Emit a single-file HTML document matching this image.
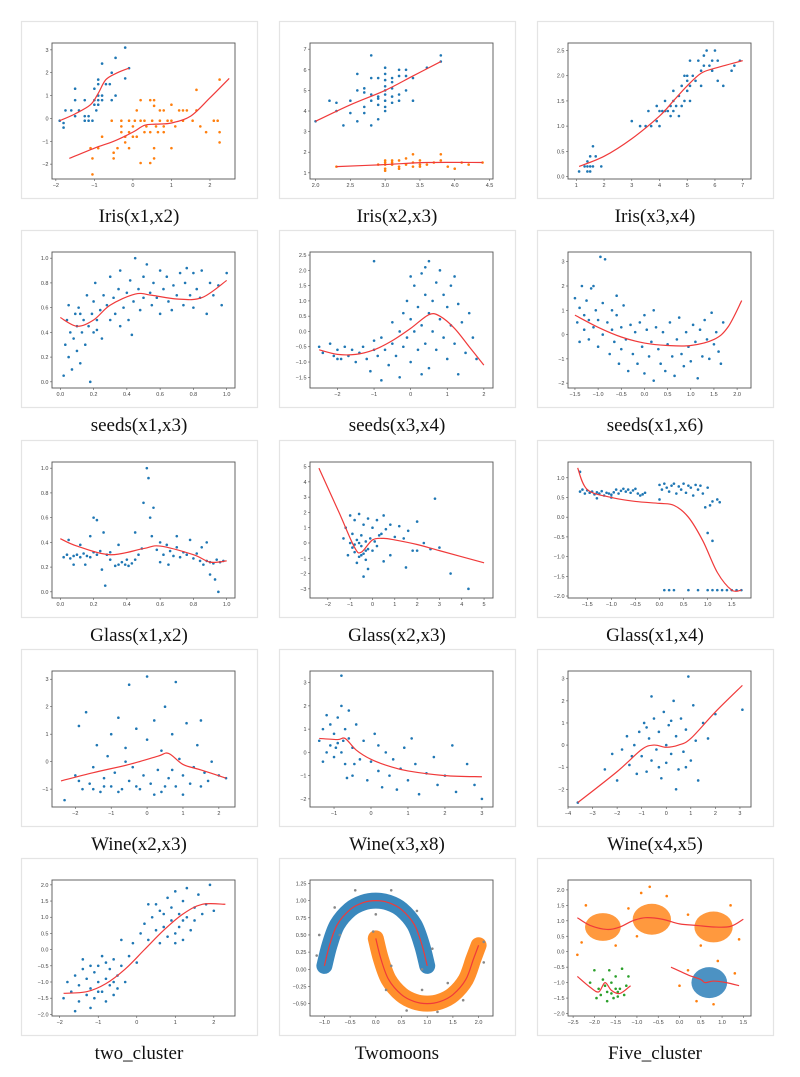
<!DOCTYPE html>
<html><head><meta charset="utf-8"><style>
html,body{margin:0;padding:0;background:#fff;}
svg{display:block;}
text{font-family:"Liberation Sans",sans-serif;}
.cap{font-family:"Liberation Serif",serif;font-size:19px;fill:#111;}
</style></head><body>
<svg id="fig" width="800" height="1077" viewBox="0 0 800 1077" xmlns="http://www.w3.org/2000/svg"></svg>
<script>
// ---------- data ----------
const p1Blue="-1.9,-0.1;-1.8,-0.4;-1.8,-0.2;-1.75,0.35;-1.6,0.35;-1.5,0.1;-1.5,0.8;-1.5,1.3;-1.4,0.35;-1.25,-0.1;-1.25,0.1;-1.25,0.8;-1.15,0.1;-1.15,-0.1;-1.05,-0.1;-1,0.8;-1,1.3;-1,0.6;-0.95,0.35;-0.9,1.0;-0.9,1.5;-0.9,1.7;-0.9,0.8;-0.8,0.8;-0.8,1.0;-0.8,2.4;-0.7,1.5;-0.6,1.5;-0.55,2.0;-0.55,0.8;-0.45,1.0;-0.45,2.65;-0.2,1.75;-0.2,3.1;-0.1,2.2;-0.9,0.6";
const p1Orange="-1.1,-1.3;-1.05,-1.75;-1.05,-2.45;-0.9,-1.3;-0.8,-0.8;-0.5,-1.5;-0.5,-1.75;-0.4,-1.3;-0.55,-0.1;-0.3,-0.1;-0.3,-0.35;-0.3,-0.6;-0.2,-0.8;-0.2,-1.05;-0.1,-0.1;-0.1,-0.6;-0.1,-1.3;0,-0.35;0,-0.8;0.05,-0.1;0.1,0.35;0.2,-0.1;0.2,0.8;0.2,-1.95;0.3,-0.6;0.3,-0.1;0.35,-0.35;0.45,0.8;0.45,-0.6;0.45,-1.95;0.5,-0.1;0.55,0.55;0.55,0.8;0.55,-1.3;0.55,-1.75;0.6,-0.35;0.65,-0.6;0.7,0.35;0.7,-0.1;0.8,0.35;0.8,-0.6;0.9,-0.1;1,0.6;1,-0.1;1,-1.3;1.1,-0.35;1.2,0.35;1.3,0.35;1.3,-0.1;1.4,0.35;1.55,-0.1;1.65,0.35;1.65,1.25;1.75,-0.35;1.9,-0.6;2.1,-0.1;2.2,-0.1;2.25,1.7;2.25,-0.6;2.25,-1.05;0.8,-0.35;0.1,-0.8";
const p1CurveB="-1.9,-0.1;-1.5,0.2;-1.1,0.6;-0.9,1.1;-0.7,1.7;-0.4,2.0;-0.1,2.2";
const p1CurveO="-1.65,-1.75;-1,-1.3;-0.5,-1;0,-0.6;0.3,-0.3;0.6,-0.25;1,-0.2;1.5,0.1;2,0.9;2.5,1.75";
const p2Blue="2.3,4.0;2.3,4.4;2.5,3.9;2.5,4.5;2.6,3.5;2.6,5.0;2.7,3.9;2.7,4.9;2.7,5.1;2.7,4.2;2.8,4.5;2.8,3.3;2.8,4.8;2.8,5.6;2.8,6.7;2.9,4.3;2.9,4.6;2.9,5.6;2.9,3.6;3.0,4.2;3.0,4.5;3.0,4.8;3.0,5.0;3.0,5.5;3.0,5.8;3.0,6.1;3.0,4.0;3.1,4.7;3.1,5.4;3.1,4.4;3.1,5.6;3.2,4.8;3.2,5.7;3.2,6.0;3.2,4.5;3.3,5.0;3.3,5.7;3.3,6.0;3.4,4.5;3.4,5.6;3.6,6.1;3.8,6.4;3.8,6.7;2.2,4.5;2.4,3.3;2.6,5.8;2.0,3.5;3.0,5.2;2.9,4.7;3.1,5.1";
const p2Orange="2.3,1.3;2.9,1.4;3.0,1.2;3.0,1.4;3.0,1.6;3.0,1.1;3.1,1.5;3.1,1.6;3.1,1.4;3.2,1.3;3.2,1.6;3.2,1.2;3.3,1.4;3.3,1.7;3.4,1.5;3.4,1.3;3.4,1.9;3.5,1.4;3.5,1.3;3.6,1.4;3.7,1.5;3.8,1.6;3.8,1.9;3.9,1.3;4.0,1.2;4.1,1.5;4.2,1.4;4.4,1.5;3.0,1.5;3.5,1.6";
const p2CurveB="2.0,3.5;2.5,4.3;3.0,5.0;3.4,5.7;3.8,6.4";
const p2CurveO="2.3,1.3;3.0,1.4;3.6,1.5;4.4,1.5";
const p3Pts="1.1,0.1;1.3,0.2;1.4,0.2;1.4,0.3;1.5,0.2;1.5,0.4;1.6,0.2;1.6,0.6;1.7,0.4;1.9,0.2;1.5,0.1;1.4,0.1;3.0,1.1;3.3,1.0;3.5,1.0;3.6,1.3;3.7,1.0;3.9,1.1;3.9,1.4;4.0,1.3;4.0,1.0;4.1,1.3;4.2,1.3;4.2,1.5;4.3,1.3;4.4,1.4;4.4,1.2;4.5,1.5;4.5,1.7;4.6,1.4;4.7,1.6;4.7,1.2;4.8,1.8;4.8,1.4;4.9,1.5;4.9,2.0;5.0,1.7;5.0,1.9;5.0,2.0;5.1,1.8;5.1,2.3;5.2,2.0;5.3,1.9;5.4,2.3;5.5,2.1;5.5,1.8;5.6,2.4;5.6,2.2;5.7,2.5;5.8,2.2;5.9,2.3;6.0,2.5;6.1,1.9;6.1,2.3;6.3,1.8;6.6,2.1;6.7,2.2;6.9,2.3;5.9,2.1;5.1,1.5;4.5,1.3";
const p3Curve="1.1,0.2;2,0.4;3,0.75;4,1.2;4.5,1.5;5,1.8;5.5,2.05;6,2.15;7,2.3";
const p4Pts="0.02,0.05;0.03,0.3;0.04,0.5;0.05,0.2;0.06,0.4;0.07,0.1;0.08,0.35;0.09,0.55;0.1,0.25;0.1,0.45;0.11,0.6;0.12,0.15;0.13,0.4;0.14,0.5;0.15,0.3;0.16,0.7;0.17,0.45;0.18,0.0;0.19,0.55;0.2,0.4;0.2,0.65;0.21,0.8;0.22,0.5;0.24,0.58;0.25,0.35;0.26,0.7;0.28,0.62;0.3,0.5;0.3,0.85;0.32,0.68;0.33,0.55;0.35,0.75;0.36,0.9;0.38,0.6;0.4,0.72;0.41,0.5;0.42,0.82;0.44,0.65;0.45,1.0;0.47,0.75;0.48,0.58;0.5,0.85;0.5,0.68;0.52,0.95;0.54,0.72;0.55,0.62;0.56,0.8;0.58,0.68;0.6,0.9;0.6,0.55;0.62,0.75;0.64,0.85;0.65,0.65;0.67,0.58;0.68,0.78;0.7,0.7;0.72,0.88;0.74,0.62;0.75,0.8;0.76,0.92;0.78,0.7;0.8,0.88;0.8,0.6;0.82,0.75;0.84,0.68;0.85,0.9;0.88,0.55;0.9,0.8;0.92,0.7;0.95,0.78;0.97,0.62;1.0,0.88;0.05,0.62;0.12,0.55;0.22,0.42;0.36,0.45;0.43,0.38";
const p4Curve="0,0.52;0.1,0.45;0.2,0.5;0.3,0.62;0.45,0.71;0.55,0.7;0.7,0.67;0.85,0.68;1,0.82";
const p5Pts="-2.5,-0.5;-2.4,-0.7;-2.2,-0.4;-2.1,-0.8;-2.0,-0.6;-1.9,-0.9;-1.8,-0.5;-1.7,-0.8;-1.6,-0.6;-1.5,-1.0;-1.4,-0.7;-1.3,-0.5;-1.2,-0.9;-1.1,-1.3;-1.0,-0.6;-1.0,-0.3;-0.9,-0.8;-0.8,-0.2;-0.7,-0.6;-0.6,-1.1;-0.5,-0.4;-0.5,0.3;-0.4,-0.8;-0.3,0.0;-0.3,-1.5;-0.2,0.6;-0.2,-0.5;-0.1,1.0;-0.1,-0.2;0,0.4;0,-1.0;0.1,1.5;0.1,0.0;0.2,-0.6;0.2,0.8;0.3,1.9;0.3,0.2;0.4,-0.4;0.4,1.2;0.5,0.6;0.5,2.3;0.5,-1.2;0.6,1.0;0.6,0.0;0.7,1.6;0.7,-0.6;0.8,0.4;0.8,2.0;0.9,-0.2;0.9,1.2;1.0,0.8;1.0,-0.9;1.1,1.5;1.1,0.2;1.2,-0.4;1.3,0.9;1.3,-1.4;1.4,0.3;1.5,-0.7;1.6,0.6;1.7,-0.2;1.8,-0.9;-1.0,2.3;-0.8,-1.6;0.3,-1.4;-2.0,-0.9;1.2,1.8;0.0,1.8;0.4,2.1";
const p5Curve="-2.5,-0.6;-2,-0.75;-1.5,-0.75;-1,-0.6;-0.5,-0.3;0,0.1;0.5,0.55;0.8,0.5;1.2,0.1;1.6,-0.5;2,-1.1";
const p6Pts="-1.5,1.5;-1.45,0.5;-1.4,1.1;-1.35,2.0;-1.3,0.2;-1.3,0.8;-1.25,1.4;-1.2,-0.2;-1.2,0.6;-1.15,1.9;-1.1,0.3;-1.05,1.0;-1.0,-0.5;-1.0,0.6;-0.95,3.2;-0.9,1.3;-0.9,0.0;-0.85,3.1;-0.8,0.5;-0.75,-0.8;-0.7,1.0;-0.7,0.2;-0.65,-0.3;-0.6,0.8;-0.55,-1.2;-0.5,0.3;-0.5,-0.6;-0.45,1.2;-0.4,-0.2;-0.35,-1.5;-0.3,0.4;-0.25,-0.8;-0.2,0.1;-0.15,-1.2;-0.1,0.5;-0.05,-0.5;0,-1.6;0.05,0.2;0.1,-0.9;0.15,-0.3;0.2,-1.9;0.25,0.3;0.3,-0.6;0.35,-1.2;0.4,0.1;0.45,-1.5;0.5,-0.4;0.55,0.5;0.6,-0.9;0.65,-1.7;0.7,-0.2;0.75,0.7;0.8,-0.8;0.85,-1.3;0.9,0.1;0.95,-0.5;1.0,-1.1;1.05,0.4;1.1,-0.3;1.15,-1.8;1.2,0.2;1.25,-0.9;1.3,0.6;1.35,-0.2;1.4,-1.0;1.45,0.9;1.5,-0.4;1.55,0.1;1.6,-0.7;1.65,-1.2;1.7,0.5;-1.1,2.0;-0.6,1.6;0.2,1.0;-1.4,-0.3;0.0,0.8";
const p6Curve="-1.5,0.8;-1,0.3;-0.5,-0.1;0,-0.35;0.5,-0.45;1,-0.45;1.5,-0.2;1.8,0.3;2.1,1.4";
const p7Pts="0.02,0.28;0.04,0.3;0.06,0.27;0.08,0.29;0.1,0.3;0.12,0.28;0.14,0.31;0.16,0.29;0.18,0.28;0.2,0.32;0.05,0.42;0.08,0.22;0.12,0.38;0.18,0.45;0.2,0.6;0.22,0.3;0.24,0.33;0.26,0.48;0.28,0.3;0.3,0.32;0.22,0.58;0.25,0.18;0.27,0.05;0.33,0.21;0.35,0.22;0.37,0.24;0.39,0.22;0.41,0.21;0.43,0.23;0.45,0.26;0.47,0.3;0.49,0.35;0.5,0.72;0.52,1.0;0.53,0.92;0.54,0.6;0.55,0.45;0.56,0.68;0.58,0.34;0.6,0.4;0.62,0.3;0.64,0.38;0.66,0.33;0.68,0.29;0.7,0.36;0.72,0.28;0.74,0.32;0.76,0.3;0.78,0.42;0.8,0.27;0.82,0.31;0.84,0.25;0.86,0.22;0.88,0.25;0.9,0.24;0.92,0.23;0.94,0.26;0.96,0.24;0.98,0.25;0.85,0.36;0.88,0.4;0.9,0.14;0.93,0.1;0.95,0.0;0.6,0.24;0.65,0.22;0.4,0.26;0.45,0.48;0.35,0.38;0.7,0.45;0.15,0.22;0.3,0.26";
const p7Curve="0,0.43;0.1,0.37;0.3,0.3;0.5,0.35;0.6,0.37;0.8,0.3;0.9,0.24;1,0.25";
const p8Pts="-1,0;-0.9,-0.3;-0.8,-0.6;-0.7,0.2;-0.6,-0.9;-0.5,-0.2;-0.5,0.5;-0.4,-0.7;-0.3,0.1;-0.3,-1.1;-0.2,-0.4;-0.1,0.3;0,-0.5;0.1,0.1;0.2,-0.2;-1.2,1.0;-1.0,1.8;-0.8,1.5;-0.6,1.9;-0.4,1.2;-0.2,1.6;0,1.0;0.2,1.5;0.4,0.6;0.5,1.8;0.6,0.9;0.8,1.2;1.0,0.4;1.2,1.1;1.4,0.3;1.6,0.8;1.8,-0.5;2.0,1.4;2.3,0.0;2.6,-0.4;2.8,2.9;3.0,-0.3;3.5,-2.0;4.3,-3.0;0.5,-1.2;0.8,-0.8;1.5,-1.6;-1.3,0.3;-1.1,-0.8;-0.9,0.6;-0.7,-1.3;-0.4,-2.2;-0.2,-1.7;0.3,0.5;-0.6,0.0;-0.8,-0.1;-0.3,-0.5;-0.5,-0.8;2.0,-0.5";
const p8Curve="-2.4,4.9;-1.5,2;-0.8,-0.3;-0.5,-0.6;0,0.2;0.5,0.3;1,0.2;2,-0.1;3,-0.5;5,-1.3";
const p9Pts="-1.65,0.65;-1.6,0.7;-1.55,0.6;-1.5,0.68;-1.45,0.62;-1.4,0.65;-1.35,0.58;-1.3,0.63;-1.25,0.6;-1.2,0.66;-1.15,0.55;-1.1,0.62;-1.05,0.6;-1.0,0.57;-0.95,0.63;-0.9,0.7;-0.85,0.6;-0.8,0.67;-0.75,0.72;-0.7,0.65;-0.65,0.7;-0.6,0.62;-0.55,0.68;-0.5,0.72;-0.45,0.6;-0.4,0.55;-0.35,0.58;-0.3,0.62;-1.3,0.48;-1.0,0.5;0.0,0.82;0.05,0.7;0.1,0.85;0.15,0.75;0.2,0.65;0.25,0.8;0.3,0.85;0.35,0.6;0.4,0.78;0.45,0.7;0.5,0.85;0.55,0.62;0.6,0.8;0.65,0.75;0.7,0.55;0.75,0.82;0.8,0.7;0.85,0.8;0.9,0.6;1.0,0.75;1.05,0.3;1.1,0.4;1.2,0.45;1.25,0.38;0.95,0.25;1.0,-0.4;1.1,-0.6;0.1,-1.85;0.2,-1.85;0.3,-1.85;0.6,-1.85;0.8,-1.85;1.0,-1.85;1.1,-1.85;1.2,-1.85;1.3,-1.85;1.4,-1.85;1.5,-1.85;1.6,-1.85;1.7,-1.85;-1.65,1.15;0.0,0.45";
const p9Curve="-1.7,1.25;-1.5,0.7;-1,0.5;-0.5,0.4;0,0.35;0.3,0.3;0.6,0;0.9,-0.6;1.2,-1.4;1.5,-1.85;1.7,-1.85";
const p10Pts="-2.3,-1.4;-2.0,-0.5;-1.9,1.3;-1.8,-1.0;-1.7,1.8;-1.6,-0.8;-1.5,-0.2;-1.4,0.6;-1.3,-1.1;-1.2,-0.6;-1.1,0.2;-1.0,-0.9;-1.0,1.0;-0.9,-0.4;-0.8,1.6;-0.7,-1.0;-0.6,0.5;-0.5,-0.7;-0.5,2.8;-0.4,-0.2;-0.3,1.2;-0.2,-1.0;-0.1,-0.5;0,0.8;0,3.1;0.1,-0.8;0.2,1.5;0.3,-0.3;0.4,-1.1;0.4,0.4;0.5,2.0;0.6,-0.6;0.7,1.0;0.8,-0.9;0.8,2.9;0.9,0.1;1.0,-0.5;1.1,1.4;1.2,-0.8;1.3,-0.2;1.4,0.6;1.5,-0.9;1.5,1.5;1.6,-0.4;1.7,-0.7;1.8,0.0;2.0,-0.5;2.2,-0.6;-1.5,-1.0;-0.8,-1.1;0.2,-1.2;1.0,-1.2;-1.2,-0.9;0.5,-0.9;-0.3,-0.9;0.7,-0.3;-0.6,0.0;-1.9,-0.7";
const p10Curve="-2.4,-0.7;-1.5,-0.4;-0.5,-0.1;0.3,0.2;0.6,0.3;1,-0.1;1.5,-0.3;2.2,-0.6";
const p11Pts="-1.4,0.5;-1.3,1.0;-1.2,1.6;-1.1,0.3;-1.1,1.2;-1.0,0.8;-1.0,-0.2;-0.9,1.5;-0.9,0.4;-0.8,2.0;-0.8,0.0;-0.8,3.3;-0.7,1.0;-0.7,-0.5;-0.6,0.6;-0.6,1.8;-0.5,0.2;-0.5,-1.0;-0.4,1.2;-0.3,-0.3;-0.2,0.5;-0.1,-1.2;0,-0.4;0.1,0.8;0.2,-0.8;0.3,-1.5;0.4,0.0;0.5,-1.0;0.6,-0.3;0.7,-1.6;0.8,-0.7;0.9,0.2;1.0,-1.2;1.2,-0.5;1.3,-1.8;1.5,-0.9;1.7,-0.2;1.8,-1.4;2.0,-1.0;2.2,0.3;2.3,-1.7;2.6,-0.5;2.8,-1.4;3.0,-2.0;-1.2,0.0;-0.95,0.2;-0.75,0.5;-0.65,-1.1;-0.45,-0.5;0.2,0.3;1.1,0.6;-1.3,-0.4";
const p11Curve="-1.4,0.6;-0.9,0.55;-0.7,0.6;-0.4,0.1;0,-0.3;0.5,-0.6;1,-0.8;2,-1;3,-1.05";
const p12Pts="-3.6,-2.6;-2.5,-1.1;-2.2,-0.4;-2.0,-1.6;-1.8,-0.2;-1.6,0.4;-1.5,-0.9;-1.3,0.0;-1.2,-1.3;-1.1,0.6;-1.0,-0.5;-0.9,1.0;-0.8,-1.2;-0.7,0.3;-0.6,-0.7;-0.5,1.2;-0.4,-0.2;-0.3,0.6;-0.2,-1.5;-0.1,1.5;0,0.0;0,-0.8;0.1,0.9;0.2,-0.4;0.3,2.0;0.4,0.4;0.5,-1.1;0.6,1.2;0.7,-0.3;0.8,0.7;0.9,3.1;1.0,-0.7;1.1,1.8;1.2,0.2;1.3,-1.6;1.5,1.0;1.7,0.3;2.0,1.4;3.1,1.6;-0.6,2.2;0.4,-2.0;-1.4,-0.5;0.2,1.1;-0.3,-1.0;0.8,-1.0;-0.8,0.8";
const p12Curve="-3.6,-2.6;-2,-1.2;-1,-0.2;-0.5,0;0,-0.1;0.5,0;1,0.3;2,1.5;3.1,2.7";
const p13Pts="-1.9,-1.5;-1.8,-1.0;-1.7,-1.3;-1.6,-0.8;-1.5,-1.6;-1.5,-1.1;-1.4,-0.6;-1.3,-1.4;-1.3,-0.9;-1.2,-1.8;-1.2,-1.2;-1.1,-0.7;-1.1,-1.5;-1.0,-1.0;-1.0,-0.5;-0.9,-1.3;-0.9,-0.2;-0.8,-0.9;-0.8,-1.6;-0.7,-1.1;-0.7,-0.6;-0.6,-1.4;-0.6,-0.3;-0.5,-0.8;-0.5,-1.2;-0.4,-0.5;-0.3,-1.0;-0.2,-0.2;-0.1,0.2;0,-0.4;0.1,0.5;0.2,0.8;0.3,0.3;0.4,1.0;0.5,0.6;0.5,1.4;0.6,0.2;0.7,1.1;0.7,0.7;0.8,1.6;0.8,0.4;0.9,0.9;0.9,1.3;1.0,0.5;1.0,1.8;1.1,1.1;1.1,0.7;1.2,1.5;1.2,0.3;1.3,1.0;1.3,1.9;1.4,0.6;1.5,1.3;1.5,0.9;1.6,1.7;1.7,1.1;1.8,1.4;1.9,2.0;2.0,1.2;-1.6,-1.9;-1.4,-0.3;-0.4,0.3;0.3,1.4;1.0,0.2;-1.0,-1.3;-0.8,-0.4;0.6,1.2;1.2,0.9;-1.2,-0.5;-0.6,-1.0";
const p13Curve="-1.9,-1.35;-1.3,-1.3;-0.8,-1.05;-0.3,-0.6;0.2,0;0.7,0.6;1.2,1.1;1.7,1.4;2.3,1.4";
const p14CurveB="-1,0.05;-0.9,0.35;-0.75,0.65;-0.5,0.87;-0.25,0.97;0,1.0;0.25,0.97;0.5,0.87;0.75,0.65;0.9,0.35;1,0.05";
const p14CurveO="0,0.45;0.1,0.15;0.25,-0.15;0.5,-0.37;0.75,-0.47;1,-0.5;1.25,-0.47;1.5,-0.37;1.75,-0.15;1.9,0.15;2,0.35";
const p14Out="-1.15,0.2;-1.1,0.5;-0.8,0.9;-0.4,1.15;0.3,1.15;0.8,0.85;1.1,0.3;0.9,0.0;-0.7,0.5;0.0,0.8;-0.05,0.55;0.2,-0.3;0.6,-0.6;1.2,-0.62;1.7,-0.45;2.1,0.1;2.1,0.4;1.4,-0.2;0.3,0.05;0.9,-0.3";
const p15Orange=[[-1.8,0.8,0.42,0.45],[-0.65,1.05,0.45,0.5],[0.8,0.8,0.45,0.5]];
const p15Blue=[[0.7,-1.0,0.42,0.5]];
const p15Green="-2.0,-0.6;-1.9,-1.2;-1.85,-1.4;-1.8,-0.9;-1.75,-1.1;-1.7,-1.3;-1.65,-0.6;-1.6,-1.0;-1.55,-1.5;-1.5,-0.8;-1.45,-1.3;-1.4,-1.2;-1.35,-0.55;-1.3,-1.4;-1.25,-1.1;-1.2,-0.8;-2.1,-1.0;-1.95,-1.5;-1.7,-1.6;-1.5,-1.2;-1.6,-1.35;-1.45,-1.45";
const p15Out="-2.4,-0.1;-2.3,0.3;-2.2,1.5;-1.2,1.4;-0.9,1.9;-0.7,2.1;-0.3,1.8;0.2,1.2;1.2,1.5;1.4,0.4;0.5,0.2;-1.5,0.2;-1.0,0.5;0.2,-0.6;1.3,-0.7;0.8,-1.7;0.4,-1.6;0.9,-0.3;0.0,-1.1";
const p15CurveO="-2.4,1.1;-2.1,0.85;-1.7,0.72;-1.4,0.8;-1.1,1.0;-0.8,1.1;-0.4,1.05;0,0.9;0.4,0.85;0.8,0.8;1.2,0.82;1.5,1.05";
const p15CurveG="-2.4,-0.8;-2.1,-1.15;-1.9,-1.3;-1.75,-1.0;-1.6,-1.25;-1.4,-1.35;-1.15,-1.1";
const p15CurveB="-0.2,-0.5;0.2,-0.75;0.5,-0.9;0.6,-1.0;0.8,-0.95;1.1,-1.0;1.4,-1.1";

const BLUE="#1f77b4",ORANGE="#ff7f0e",GREEN="#2ca02c",RED="#f03a3a";
const NS="http://www.w3.org/2000/svg";
const svg=document.getElementById('fig');
function P(s){return s.split(';').map(t=>t.split(',').map(Number));}
function el(tag,attrs,parent){const e=document.createElementNS(NS,tag);for(const k in attrs)e.setAttribute(k,attrs[k]);(parent||svg).appendChild(e);return e;}
function rng(a,b,s){const r=[];for(let v=a;v<=b+1e-9;v+=s)r.push(+v.toFixed(2));return r;}
function fmt(v,d){return (v<0?'\u2212':'')+Math.abs(v).toFixed(d);}
function smooth(p){
  let d='M'+p[0][0]+','+p[0][1];
  for(let i=0;i<p.length-1;i++){
    const p0=p[Math.max(0,i-1)],p1=p[i],p2=p[i+1],p3=p[Math.min(p.length-1,i+2)];
    const c1x=p1[0]+(p2[0]-p0[0])/6,c1y=p1[1]+(p2[1]-p0[1])/6;
    const c2x=p2[0]-(p3[0]-p1[0])/6,c2y=p2[1]-(p3[1]-p1[1])/6;
    d+=' C'+c1x+','+c1y+' '+c2x+','+c2y+' '+p2[0]+','+p2[1];
  }
  return d;
}

const colL=[21,279,537],rowT=[21,230,440,649,858];
function panel(c,r,cfg){
  const fx=colL[c],fy=rowT[r];
  const g=el('g',{});
  
  
  const fr=el('rect',{x:fx+0.5,y:fy+0.5,width:236,height:177,fill:'#fff',stroke:'#e4e4e4','stroke-width':1.2},g);
  
  
  const ax=fx+31,ay=fy+22,aw=183,ah=136;
  const X=v=>ax+(v-cfg.xr[0])/(cfg.xr[1]-cfg.xr[0])*aw;
  const Y=v=>ay+ah-(v-cfg.yr[0])/(cfg.yr[1]-cfg.yr[0])*ah;
  const cp=el('clipPath',{id:'cp'+c+r},g);el('rect',{x:ax,y:ay,width:aw,height:ah},cp);
  const pg=el('g',{'clip-path':'url(#cp'+c+r+')'},g);
  (cfg.blobs||[]).forEach(b=>{b.data.forEach(d=>{
    const e=el('ellipse',{cx:X(d[0]),cy:Y(d[1]),rx:Math.abs(X(d[0]+d[2])-X(d[0])),ry:Math.abs(Y(d[1]+d[3])-Y(d[1])),fill:b.color,opacity:0.8},pg);
    
    
  });});
  (cfg.bands||[]).forEach(b=>{
    const p=el('path',{d:smooth(P(b.data).map(q=>[X(q[0]),Y(q[1])])),fill:'none',stroke:b.color,'stroke-width':b.w,'stroke-linecap':'round','stroke-linejoin':'round',opacity:0.88},pg);
    
    
  });
  cfg.pts.forEach(s=>{P(s.data).forEach(q=>{
    const d=el('circle',{cx:X(q[0]),cy:Y(q[1]),r:1.3,fill:s.color},pg);
    
    
  });});
  cfg.curves.forEach(s=>{
    const p=el('path',{d:smooth(P(s).map(q=>[X(q[0]),Y(q[1])])),fill:'none',stroke:RED,'stroke-width':1.2,'stroke-linejoin':'round'},pg);
    
    
  });
  const bx=el('rect',{x:ax,y:ay,width:aw,height:ah,fill:'none',stroke:'#555','stroke-width':0.9},g);
  
  
  cfg.xt.forEach(v=>{
    el('line',{x1:X(v),x2:X(v),y1:ay+ah,y2:ay+ah+2,stroke:'#555','stroke-width':0.6},g);
    const t=el('text',{x:X(v),y:ay+ah+8,'font-size':5.5,fill:'#444','text-anchor':'middle'},g);
    t.textContent=fmt(v,cfg.xd);
    
    
  });
  cfg.yt.forEach(v=>{
    el('line',{x1:ax-2,x2:ax,y1:Y(v),y2:Y(v),stroke:'#555','stroke-width':0.6},g);
    const t=el('text',{x:ax-3.5,y:Y(v)+2,'font-size':5.5,fill:'#444','text-anchor':'end'},g);
    t.textContent=fmt(v,cfg.yd);
    
    
  });
  const cap=el('text',{x:fx+118,y:fy+201,'text-anchor':'middle',class:'cap'},g);
  cap.textContent=cfg.title;
  
  
}
const S=(data,color)=>({data,color});
panel(0,0,{name:'iris-x1-x2',title:'Iris(x1,x2)',xr:[-2.1,2.65],yr:[-2.65,3.3],xt:rng(-2,2,1),yt:rng(-2,3,1),xd:0,yd:0,pts:[S(p1Blue,BLUE),S(p1Orange,ORANGE)],curves:[p1CurveB,p1CurveO]});
panel(1,0,{name:'iris-x2-x3',title:'Iris(x2,x3)',xr:[1.92,4.55],yr:[0.7,7.3],xt:rng(2,4.5,0.5),yt:rng(1,7,1),xd:1,yd:0,pts:[S(p2Blue,BLUE),S(p2Orange,ORANGE)],curves:[p2CurveB,p2CurveO]});
panel(2,0,{name:'iris-x3-x4',title:'Iris(x3,x4)',xr:[0.7,7.3],yr:[-0.05,2.65],xt:rng(1,7,1),yt:rng(0,2.5,0.5),xd:0,yd:1,pts:[S(p3Pts,BLUE)],curves:[p3Curve]});
panel(0,1,{name:'seeds-x1-x3',title:'seeds(x1,x3)',xr:[-0.05,1.05],yr:[-0.05,1.05],xt:rng(0,1,0.2),yt:rng(0,1,0.2),xd:1,yd:1,pts:[S(p4Pts,BLUE)],curves:[p4Curve]});
panel(1,1,{name:'seeds-x3-x4',title:'seeds(x3,x4)',xr:[-2.75,2.25],yr:[-1.85,2.6],xt:rng(-2,2,1),yt:rng(-1.5,2.5,0.5),xd:0,yd:1,pts:[S(p5Pts,BLUE)],curves:[p5Curve]});
panel(2,1,{name:'seeds-x1-x6',title:'seeds(x1,x6)',xr:[-1.65,2.3],yr:[-2.2,3.4],xt:rng(-1.5,2,0.5),yt:rng(-2,3,1),xd:1,yd:0,pts:[S(p6Pts,BLUE)],curves:[p6Curve]});
panel(0,2,{name:'glass-x1-x2',title:'Glass(x1,x2)',xr:[-0.05,1.05],yr:[-0.05,1.05],xt:rng(0,1,0.2),yt:rng(0,1,0.2),xd:1,yd:1,pts:[S(p7Pts,BLUE)],curves:[p7Curve]});
panel(1,2,{name:'glass-x2-x3',title:'Glass(x2,x3)',xr:[-2.8,5.4],yr:[-3.6,5.3],xt:rng(-2,5,1),yt:rng(-3,5,1),xd:0,yd:0,pts:[S(p8Pts,BLUE)],curves:[p8Curve]});
panel(2,2,{name:'glass-x1-x4',title:'Glass(x1,x4)',xr:[-1.9,1.9],yr:[-2.05,1.4],xt:rng(-1.5,1.5,0.5),yt:rng(-2,1,0.5),xd:1,yd:1,pts:[S(p9Pts,BLUE)],curves:[p9Curve]});
panel(0,3,{name:'wine-x2-x3',title:'Wine(x2,x3)',xr:[-2.65,2.45],yr:[-1.65,3.3],xt:rng(-2,2,1),yt:rng(-1,3,1),xd:0,yd:0,pts:[S(p10Pts,BLUE)],curves:[p10Curve]});
panel(1,3,{name:'wine-x3-x8',title:'Wine(x3,x8)',xr:[-1.65,3.3],yr:[-2.35,3.5],xt:rng(-1,3,1),yt:rng(-2,3,1),xd:0,yd:0,pts:[S(p11Pts,BLUE)],curves:[p11Curve]});
panel(2,3,{name:'wine-x4-x5',title:'Wine(x4,x5)',xr:[-4,3.45],yr:[-2.8,3.35],xt:rng(-4,3,1),yt:rng(-2,3,1),xd:0,yd:0,pts:[S(p12Pts,BLUE)],curves:[p12Curve]});
panel(0,4,{name:'two-cluster',title:'two_cluster',xr:[-2.2,2.55],yr:[-2.05,2.15],xt:rng(-2,2,1),yt:rng(-2,2,0.5),xd:0,yd:1,pts:[S(p13Pts,BLUE)],curves:[p13Curve]});
panel(1,4,{name:'twomoons',title:'Twomoons',xr:[-1.28,2.28],yr:[-0.68,1.3],xt:rng(-1,2,0.5),yt:rng(-0.5,1.25,0.25),xd:1,yd:2,bands:[{data:p14CurveB,color:BLUE,w:16},{data:p14CurveO,color:ORANGE,w:16}],pts:[S(p14Out,'#888')],curves:[p14CurveB,p14CurveO]});
panel(2,4,{name:'five-cluster',title:'Five_cluster',xr:[-2.62,1.68],yr:[-2.08,2.32],xt:rng(-2.5,1.5,0.5),yt:rng(-2,2,0.5),xd:1,yd:1,blobs:[{data:p15Orange,color:ORANGE},{data:p15Blue,color:BLUE}],pts:[S(p15Green,GREEN),S(p15Out,ORANGE)],curves:[p15CurveO,p15CurveG,p15CurveB]});
</script>
</body></html>
